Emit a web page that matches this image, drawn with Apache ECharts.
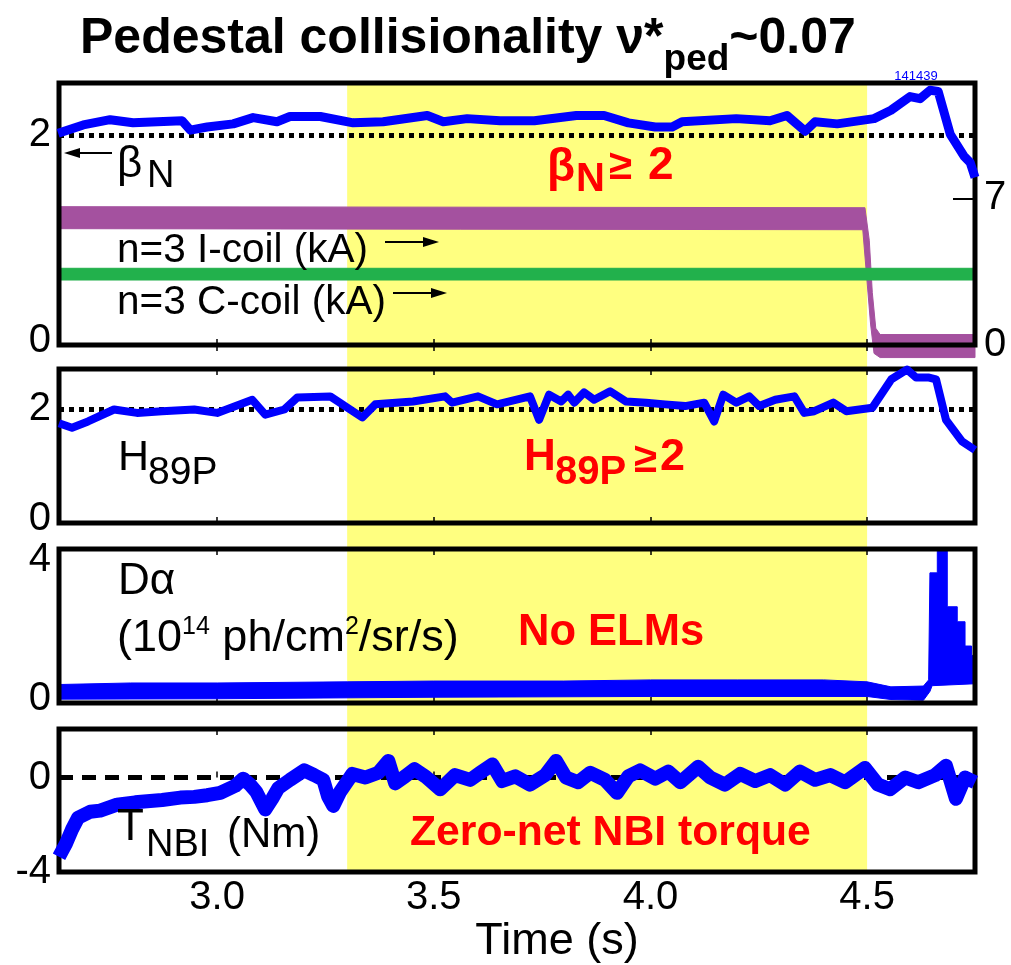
<!DOCTYPE html>
<html><head><meta charset="utf-8">
<script src="https://cdn.jsdelivr.net/npm/echarts@6/dist/echarts.min.js"></script>
<style>html,body{margin:0;padding:0;background:#fff}#c{width:1011px;height:965px}</style>
</head><body><div id="c"></div>
<script>
// ---------------- data ----------------
const timeRange = [2.635, 4.749];
const xTickValues = [3.0, 3.5, 4.0, 4.5];
const shotNumber = '141439';
const zeroTorqueWindow = [3.3, 4.5];

// beta_N (left axis, panel 1)
const betaN = [[2.633,2.02],[2.691,2.10],[2.753,2.15],[2.806,2.12],[2.862,2.13],[2.919,2.14],[2.938,2.05],[2.977,2.08],[3.037,2.11],[3.083,2.17],[3.138,2.13],[3.168,2.18],[3.238,2.18],[3.314,2.12],[3.383,2.13],[3.485,2.19],[3.522,2.13],[3.577,2.16],[3.653,2.14],[3.732,2.14],[3.829,2.19],[3.893,2.19],[3.949,2.12],[4.011,2.08],[4.050,2.08],[4.073,2.13],[4.198,2.16],[4.276,2.14],[4.315,2.19],[4.357,2.04],[4.380,2.13],[4.431,2.11],[4.516,2.16],[4.555,2.24],[4.599,2.37],[4.622,2.35],[4.645,2.43],[4.664,2.42],[4.692,2.01],[4.724,1.80],[4.738,1.74],[4.749,1.60]];
// n=3 I-coil current band (kA, right axis)
const iCoilUpper = [[2.635,6.6],[4.495,6.55],[4.505,5.0],[4.512,2.5],[4.52,0.8],[4.53,0.5],[4.749,0.5]];
const iCoilLower = [[2.635,5.55],[4.49,5.5],[4.50,3.0],[4.508,1.0],[4.516,-0.4],[4.53,-0.6],[4.749,-0.6]];
// n=3 C-coil current band (kA, right axis)
const cCoilUpper = [[2.635,3.66],[4.749,3.66]];
const cCoilLower = [[2.635,3.10],[4.749,3.10]];
// H89P (panel 2)
const h89p = [[2.635,1.75],[2.665,1.67],[2.702,1.78],[2.762,1.99],[2.815,1.93],[2.873,1.96],[2.947,1.99],[3.0,1.93],[3.081,2.16],[3.111,1.90],[3.155,1.99],[3.185,2.20],[3.261,2.22],[3.335,1.85],[3.365,2.08],[3.452,2.13],[3.526,2.22],[3.542,2.11],[3.602,2.22],[3.646,2.08],[3.722,2.22],[3.743,1.81],[3.766,2.25],[3.794,2.13],[3.810,2.25],[3.824,2.11],[3.847,2.29],[3.870,2.16],[3.907,2.31],[3.944,2.13],[3.990,2.11],[4.034,2.08],[4.080,2.05],[4.124,2.11],[4.147,1.78],[4.168,2.25],[4.198,2.11],[4.228,2.22],[4.251,2.05],[4.288,2.16],[4.332,2.22],[4.355,1.93],[4.378,1.96],[4.422,2.11],[4.452,1.96],[4.512,2.02],[4.556,2.52],[4.592,2.69],[4.613,2.55],[4.643,2.55],[4.659,2.52],[4.682,1.81],[4.719,1.43],[4.749,1.28]];
// D-alpha band (10^14 ph/cm2/sr/s, panel 3)
const dAlphaUpper = [[2.635,0.48],[2.8,0.52],[3.0,0.52],[3.3,0.55],[3.5,0.57],[3.8,0.57],[4.0,0.6],[4.2,0.6],[4.4,0.6],[4.5,0.55],[4.555,0.42],[4.63,0.44],[4.642,0.6],[4.645,3.38],[4.662,3.38],[4.662,4.0],[4.685,4.0],[4.685,2.5],[4.708,2.5],[4.708,2.11],[4.726,2.11],[4.726,1.48],[4.741,1.48],[4.741,1.25],[4.749,1.2]];
const dAlphaLower = [[2.635,0.1],[3.0,0.11],[3.5,0.15],[4.0,0.17],[4.5,0.17],[4.555,0.09],[4.63,0.07],[4.645,0.3],[4.65,0.45],[4.749,0.5]];
// NBI torque (Nm, panel 4)
const tNBI = [[2.635,-3.35],[2.651,-2.8],[2.665,-2.2],[2.679,-1.7],[2.707,-1.45],[2.730,-1.4],[2.769,-1.15],[2.811,-1.05],[2.873,-0.95],[2.915,-0.85],[2.947,-0.82],[2.977,-0.75],[3.007,-0.65],[3.042,-0.35],[3.060,-0.05],[3.076,-0.3],[3.090,-0.6],[3.111,-1.35],[3.127,-0.9],[3.141,-0.45],[3.168,-0.1],[3.201,0.3],[3.224,0.1],[3.245,-0.1],[3.256,-0.8],[3.268,-1.2],[3.284,-0.6],[3.312,0.15],[3.342,0.0],[3.372,0.2],[3.395,0.7],[3.411,-0.25],[3.434,0.05],[3.455,0.35],[3.480,0.05],[3.515,-0.5],[3.549,0.1],[3.584,-0.1],[3.607,0.2],[3.635,0.55],[3.658,-0.15],[3.688,0.05],[3.722,-0.3],[3.757,0.1],[3.782,0.7],[3.805,0.0],[3.833,-0.2],[3.861,0.2],[3.895,-0.1],[3.923,-0.65],[3.949,0.05],[3.976,0.3],[4.011,-0.05],[4.041,0.25],[4.069,-0.2],[4.110,0.45],[4.138,0.0],[4.172,-0.3],[4.207,0.15],[4.242,-0.15],[4.276,0.1],[4.311,-0.3],[4.345,0.25],[4.380,-0.1],[4.415,0.1],[4.449,-0.2],[4.495,0.4],[4.525,-0.3],[4.553,-0.5],[4.588,0.0],[4.618,-0.2],[4.657,0.1],[4.682,0.5],[4.705,-0.9],[4.726,0.0],[4.749,-0.2]];

const betaNRef = 2, h89pRef = 2, tnbiRef = 0;
const panelYRanges = [[0,2.5],[0,2.7],[0,4],[-4,2.05]];
const coilAxisRange = [0,12.5];
const panelYLabels = [[0,2],[0,2],[0,4],[-4,0]];
const coilYLabels = [0,7];

// ---------------- style ----------------
const F = "'Liberation Sans', Arial, sans-serif";
const BLUE = '#0000ff', PURPLE = '#a4519f', GREEN = '#22b14c', YELLOW = '#ffff80', RED = '#ff0000';
const grids = [
  {left:59, right:36, top:83, height:262},
  {left:59, right:36, top:369, height:154},
  {left:59, right:36, top:549, height:154},
  {left:59, right:36, top:729, height:156}
];

const chart = echarts.init(document.getElementById('c'), null, {renderer:'canvas'});

function bandSeries(upper, lower, color, xi, yi) {
  return {
    type:'custom', xAxisIndex:xi, yAxisIndex:yi, clip:false, z:3, silent:true,
    data:[upper[0]],
    encode:{x:0,y:1},
    renderItem:function(params, api){
      if (params.dataIndex !== 0) return;
      const pts = [];
      for (let i=0;i<upper.length;i++) pts.push(api.coord(upper[i]));
      for (let i=lower.length-1;i>=0;i--) pts.push(api.coord(lower[i]));
      return {type:'polygon', shape:{points:pts}, style:{fill:color, stroke:color, lineWidth:1}};
    }
  };
}

const xAxes = [];
grids.forEach((g,i)=>{
  xAxes.push({
    type:'value', gridIndex:i, min:timeRange[0], max:timeRange[1], position:'bottom',
    axisLine:{show:false}, splitLine:{show:false},
    axisTick:{show:true, inside:true, length:6, customValues:xTickValues, lineStyle:{color:'#000', width:1.5}},
    axisLabel:{show:i===3, customValues:xTickValues, fontSize:40, fontFamily:F, color:'#000', margin:6,
      formatter:v=>v.toFixed(1)},
    name: i===3 ? 'Time (s)' : '', nameLocation:'middle', nameGap:30,
    nameTextStyle:{fontSize:45, fontFamily:F, color:'#000', padding:[0,0,0,80]}
  });
});
grids.forEach((g,i)=>{
  xAxes.push({
    type:'value', gridIndex:i, min:timeRange[0], max:timeRange[1], position:'top',
    axisLine:{show:false}, splitLine:{show:false}, axisLabel:{show:false},
    axisTick:{show:true, inside:true, length:6, customValues:xTickValues, lineStyle:{color:'#000', width:1.5}}
  });
});

const yAxes = [];
grids.forEach((g,i)=>{
  const top = panelYRanges[i][1];
  yAxes.push({
    type:'value', gridIndex:i, min:panelYRanges[i][0], max:top, position:'left',
    axisLine:{show:false}, splitLine:{show:false}, axisTick:{show:false},
    axisLabel:{customValues:panelYLabels[i], fontSize:40, fontFamily:F, color:'#000', margin:8,
      formatter:v=> (v===top ? '{t|'+v+'}' : (v===panelYRanges[i][0] && v===0 ? '{b|'+v+'}' : String(v))),
      rich:{t:{fontSize:40, fontFamily:F, color:'#000', padding:[22,0,0,0]},
            b:{fontSize:40, fontFamily:F, color:'#000', padding:[0,0,9,0]}}}
  });
});
yAxes.push({
  type:'value', gridIndex:0, min:coilAxisRange[0], max:coilAxisRange[1], position:'right',
  axisLine:{show:false}, splitLine:{show:false},
  axisTick:{show:true, inside:true, length:22, customValues:[coilYLabels[1]], lineStyle:{color:'#000', width:2}},
  axisLabel:{customValues:coilYLabels, fontSize:40, fontFamily:F, color:'#000', margin:9}
});

function refLine(v, type) {
  return {silent:true, symbol:['none','none'], label:{show:false},
    lineStyle:{color:'#000', width:5, type:type, cap:'butt'}, data:[{yAxis:v}], animation:false};
}

function txt(id, text, x, y, size, opts) {
  opts = opts || {};
  const st = {text:text, fontSize:size, fontFamily:F, fontWeight:opts.bold?'bold':'normal',
      fill:opts.color||'#000', align:opts.align||'left', verticalAlign:'middle',
      textAlign:opts.align||'left', textVerticalAlign:'middle'};
  if (opts.rich) st.rich = opts.rich;
  return {type:'text', id:id, x:x, y:y, z:20, style:st};
}
function arrow(id, x1, x2, y) {
  const dir = x2 > x1 ? 1 : -1;
  return [
    {type:'line', id:id+'l', z:20, shape:{x1:x1, y1:y, x2:x2 - dir*8, y2:y}, style:{stroke:'#000', lineWidth:2}},
    {type:'polygon', id:id+'h', z:20, shape:{points:[[x2,y],[x2-dir*16,y-5],[x2-dir*16,y+5]]}, style:{fill:'#000'}}
  ];
}

const unitsRich = {
  m:{fontSize:45, fontFamily:F, color:'#000', lineHeight:46, verticalAlign:'bottom'},
  u:{fontSize:25, fontFamily:F, color:'#000', lineHeight:25, padding:[0,0,16,0], verticalAlign:'top'}
};

const graphics = [].concat(
  [txt('shot', shotNumber, 916, 76, 13, {color:BLUE, align:'center'})],
  arrow('a1', 112, 64, 153),
  [txt('b1','β',117,165,44), txt('b2','N',147,177,38)],
  [txt('ic','n=3 I-coil (kA)',117,251,40.5)], arrow('a2', 385, 439, 242),
  [txt('cc','n=3 C-coil (kA)',117,303,40.5)], arrow('a3', 393, 447, 293),
  [txt('rb1','β',547,168,46,{color:RED,bold:true}), txt('rb2','N',576,180,40,{color:RED,bold:true}),
   txt('rb3','≥',609,167,42,{color:RED,bold:true}), txt('rb4','2',648,166,46,{color:RED,bold:true})],
  [txt('h1','H',118,458,43), txt('h2','89P',148,473,39)],
  [txt('rh1','H',524,458,44,{color:RED,bold:true}), txt('rh2','89P',555,473,40,{color:RED,bold:true}),
   txt('rh3','≥',634,460,42,{color:RED,bold:true}), txt('rh4','2',660,458,45,{color:RED,bold:true})],
  [txt('d1','Dα',118,582,44)],
  [txt('d2','{m|(10}{u|14}{m| ph/cm}{u|2}{m|/sr/s)}',117,638,45,{rich:unitsRich})],
  [txt('ne','No ELMs',518,633,43.5,{color:RED,bold:true})],
  [txt('t1','T',117,828,44), txt('t2','NBI',146,846,38), txt('t3','(Nm)',227,835,42)],
  [txt('zt','Zero-net NBI torque',410,833,42.7,{color:RED,bold:true})]
);

const option = {
  animation:false,
  backgroundColor:'#fff',
  title:{
    text:'{m|Pedestal collisionality ν*}{s|ped}{m|~0.07}', left:75, top:9,
    textStyle:{rich:{
      m:{fontSize:50, fontWeight:'bold', fontFamily:F, color:'#000', lineHeight:52, padding:[0,0,12,0], verticalAlign:'top'},
      s:{fontSize:37, fontWeight:'bold', fontFamily:F, color:'#000', lineHeight:37, padding:[27,0,0,0], verticalAlign:'top'}
    }}
  },
  grid: grids.map(g=>Object.assign({show:true, borderColor:'#000', borderWidth:5, backgroundColor:'transparent', z:4}, g)),
  xAxis: xAxes,
  yAxis: yAxes,
  graphic: graphics,
  series: [
    bandSeries(iCoilUpper, iCoilLower, PURPLE, 0, 4),
    bandSeries(cCoilUpper, cCoilLower, GREEN, 0, 4),
    {type:'line', name:'betaN', xAxisIndex:0, yAxisIndex:0, data:betaN, showSymbol:false, z:5,
     lineStyle:{color:BLUE, width:9, join:'round'}, itemStyle:{color:BLUE}, markLine:refLine(betaNRef,[5,5])},
    {type:'line', name:'H89P', xAxisIndex:1, yAxisIndex:1, data:h89p, showSymbol:false, z:5,
     lineStyle:{color:BLUE, width:8, join:'round'}, itemStyle:{color:BLUE}, markLine:refLine(h89pRef,[5,5])},
    bandSeries(dAlphaUpper, dAlphaLower, BLUE, 2, 2),
    {type:'line', name:'TNBI', xAxisIndex:3, yAxisIndex:3, data:tNBI, showSymbol:false, z:5,
     lineStyle:{color:BLUE, width:14, join:'round'}, itemStyle:{color:BLUE}, markLine:refLine(tnbiRef,[14,9])}
  ]
};
chart.setOption(option);

// yellow window spanning all panels, positioned through the axes' scales
const xa = chart.convertToPixel({xAxisIndex:0}, zeroTorqueWindow[0]);
const xb = chart.convertToPixel({xAxisIndex:0}, zeroTorqueWindow[1]);
const yTop = chart.convertToPixel({yAxisIndex:0}, panelYRanges[0][1]);
const yBot = chart.convertToPixel({yAxisIndex:3}, panelYRanges[3][0]);
chart.setOption({graphic:[{type:'rect', id:'window', z:-10, silent:true,
  shape:{x:xa, y:yTop, width:xb-xa, height:yBot-yTop}, style:{fill:YELLOW}}]});
</script>
</body></html>
